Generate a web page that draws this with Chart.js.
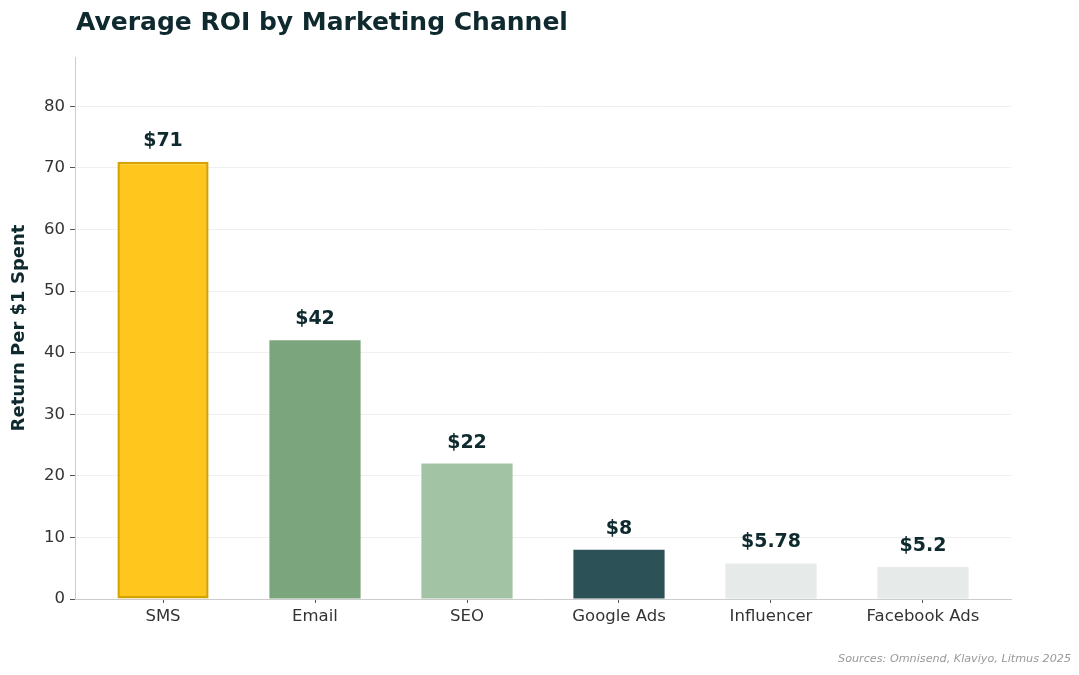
<!DOCTYPE html>
<html>
<head>
<meta charset="utf-8">
<script src="https://cdn.jsdelivr.net/npm/chart.js@4.4.1/dist/chart.umd.min.js"></script>
<style>
  html, body { margin: 0; padding: 0; background: #ffffff; }
  #wrap { width: 1079px; height: 675px; }
</style>
</head>
<body>
<div id="wrap"><canvas id="c" width="1079" height="675"></canvas></div>
<script>
const categories = ["SMS", "Email", "SEO", "Google Ads", "Influencer", "Facebook Ads"];
const roiValues = [71, 42, 22, 8, 5.78, 5.2];
const valueLabels = ["$71", "$42", "$22", "$8", "$5.78", "$5.2"];
const barColors = ["#FFC61E", "#7BA57D", "#A3C3A5", "#2C5157", "#E6EAE8", "#E6EAE8"];
const barBorderColors = ["#D4A300", "#7BA57D", "#A3C3A5", "#2C5157", "#E6EAE8", "#E6EAE8"];
const barBorderWidths = [2.5, 0, 0, 0, 0, 0];
const yTicks = [0, 10, 20, 30, 40, 50, 60, 70, 80];

const titleText = "Average ROI by Marketing Channel";
const yTitleText = "Return Per $1 Spent";
const sourceText = "Sources: Omnisend, Klaviyo, Litmus 2025";

const FONT = "'DejaVu Sans', sans-serif";
const DARK = "#0E2A2E";

const overlay = {
  id: 'overlay',
  afterDatasetsDraw(chart) {
    const ctx = chart.ctx;
    const meta = chart.getDatasetMeta(0);
    ctx.save();
    ctx.fillStyle = DARK;
    ctx.font = "bold 19px " + FONT;
    ctx.textAlign = "center";
    ctx.textBaseline = "alphabetic";
    meta.data.forEach((bar, i) => {
      ctx.fillText(valueLabels[i], bar.x, bar.y - 16);
    });
    ctx.restore();
  },
  afterDraw(chart) {
    const ctx = chart.ctx;
    const area = chart.chartArea;
    ctx.save();
    ctx.fillStyle = DARK;
    ctx.font = "bold 25px " + FONT;
    ctx.textAlign = "left";
    ctx.textBaseline = "alphabetic";
    ctx.fillText(titleText, 76, 30);
    ctx.save();
    ctx.translate(24, (area.top + area.bottom) / 2);
    ctx.rotate(-Math.PI / 2);
    ctx.font = "bold 18px " + FONT;
    ctx.textAlign = "center";
    ctx.textBaseline = "alphabetic";
    ctx.fillText(yTitleText, 0, 0);
    ctx.restore();
    ctx.fillStyle = "#999999";
    ctx.font = "italic 11.2px " + FONT;
    ctx.textAlign = "right";
    ctx.fillText(sourceText, 1071, 662);
    ctx.restore();
  }
};

new Chart(document.getElementById('c'), {
  type: 'bar',
  data: {
    datasets: [{
      data: categories.map((c, i) => ({ x: i, y: roiValues[i] })),
      backgroundColor: barColors,
      borderColor: barBorderColors,
      borderWidth: barBorderWidths,
      borderSkipped: false,
      barPercentage: 0.6,
      categoryPercentage: 1.0
    }]
  },
  options: {
    responsive: false,
    animation: false,
    devicePixelRatio: 1,
    layout: { padding: { left: 0, top: 57, right: 68, bottom: 0 } },
    plugins: {
      legend: { display: false },
      tooltip: { enabled: false },
      title: { display: false }
    },
    scales: {
      x: {
        type: 'linear',
        offset: false,
        min: -0.579,
        max: 5.579,
        afterBuildTicks: (s) => { s.ticks = categories.map((c, i) => ({ value: i })); },
        afterFit: (s) => { s.height = 76; },
        ticks: {
          callback: (v) => categories[v],
          color: "#333333",
          font: { family: FONT, size: 16.5 },
          padding: 4,
          maxRotation: 0,
          autoSkip: false
        },
        grid: {
          offset: false,
          drawOnChartArea: false,
          drawTicks: true,
          tickLength: 4,
          tickColor: "#555555",
          tickWidth: 1
        },
        border: { display: true, color: "#cccccc", width: 1 }
      },
      y: {
        min: 0,
        max: 88,
        afterBuildTicks: (s) => { s.ticks = yTicks.map(v => ({ value: v })); },
        afterFit: (s) => { s.width = 75; },
        ticks: {
          color: "#333333",
          font: { family: FONT, size: 16.5 },
          padding: 5
        },
        grid: {
          color: "#f0f0f0",
          lineWidth: 1,
          borderDash: [3, 2],
          drawTicks: true,
          tickLength: 5,
          tickColor: "#555555",
          tickBorderDash: []
        },
        border: { display: true, color: "#cccccc", width: 1 }
      }
    }
  },
  plugins: [overlay]
});
</script>
</body>
</html>
